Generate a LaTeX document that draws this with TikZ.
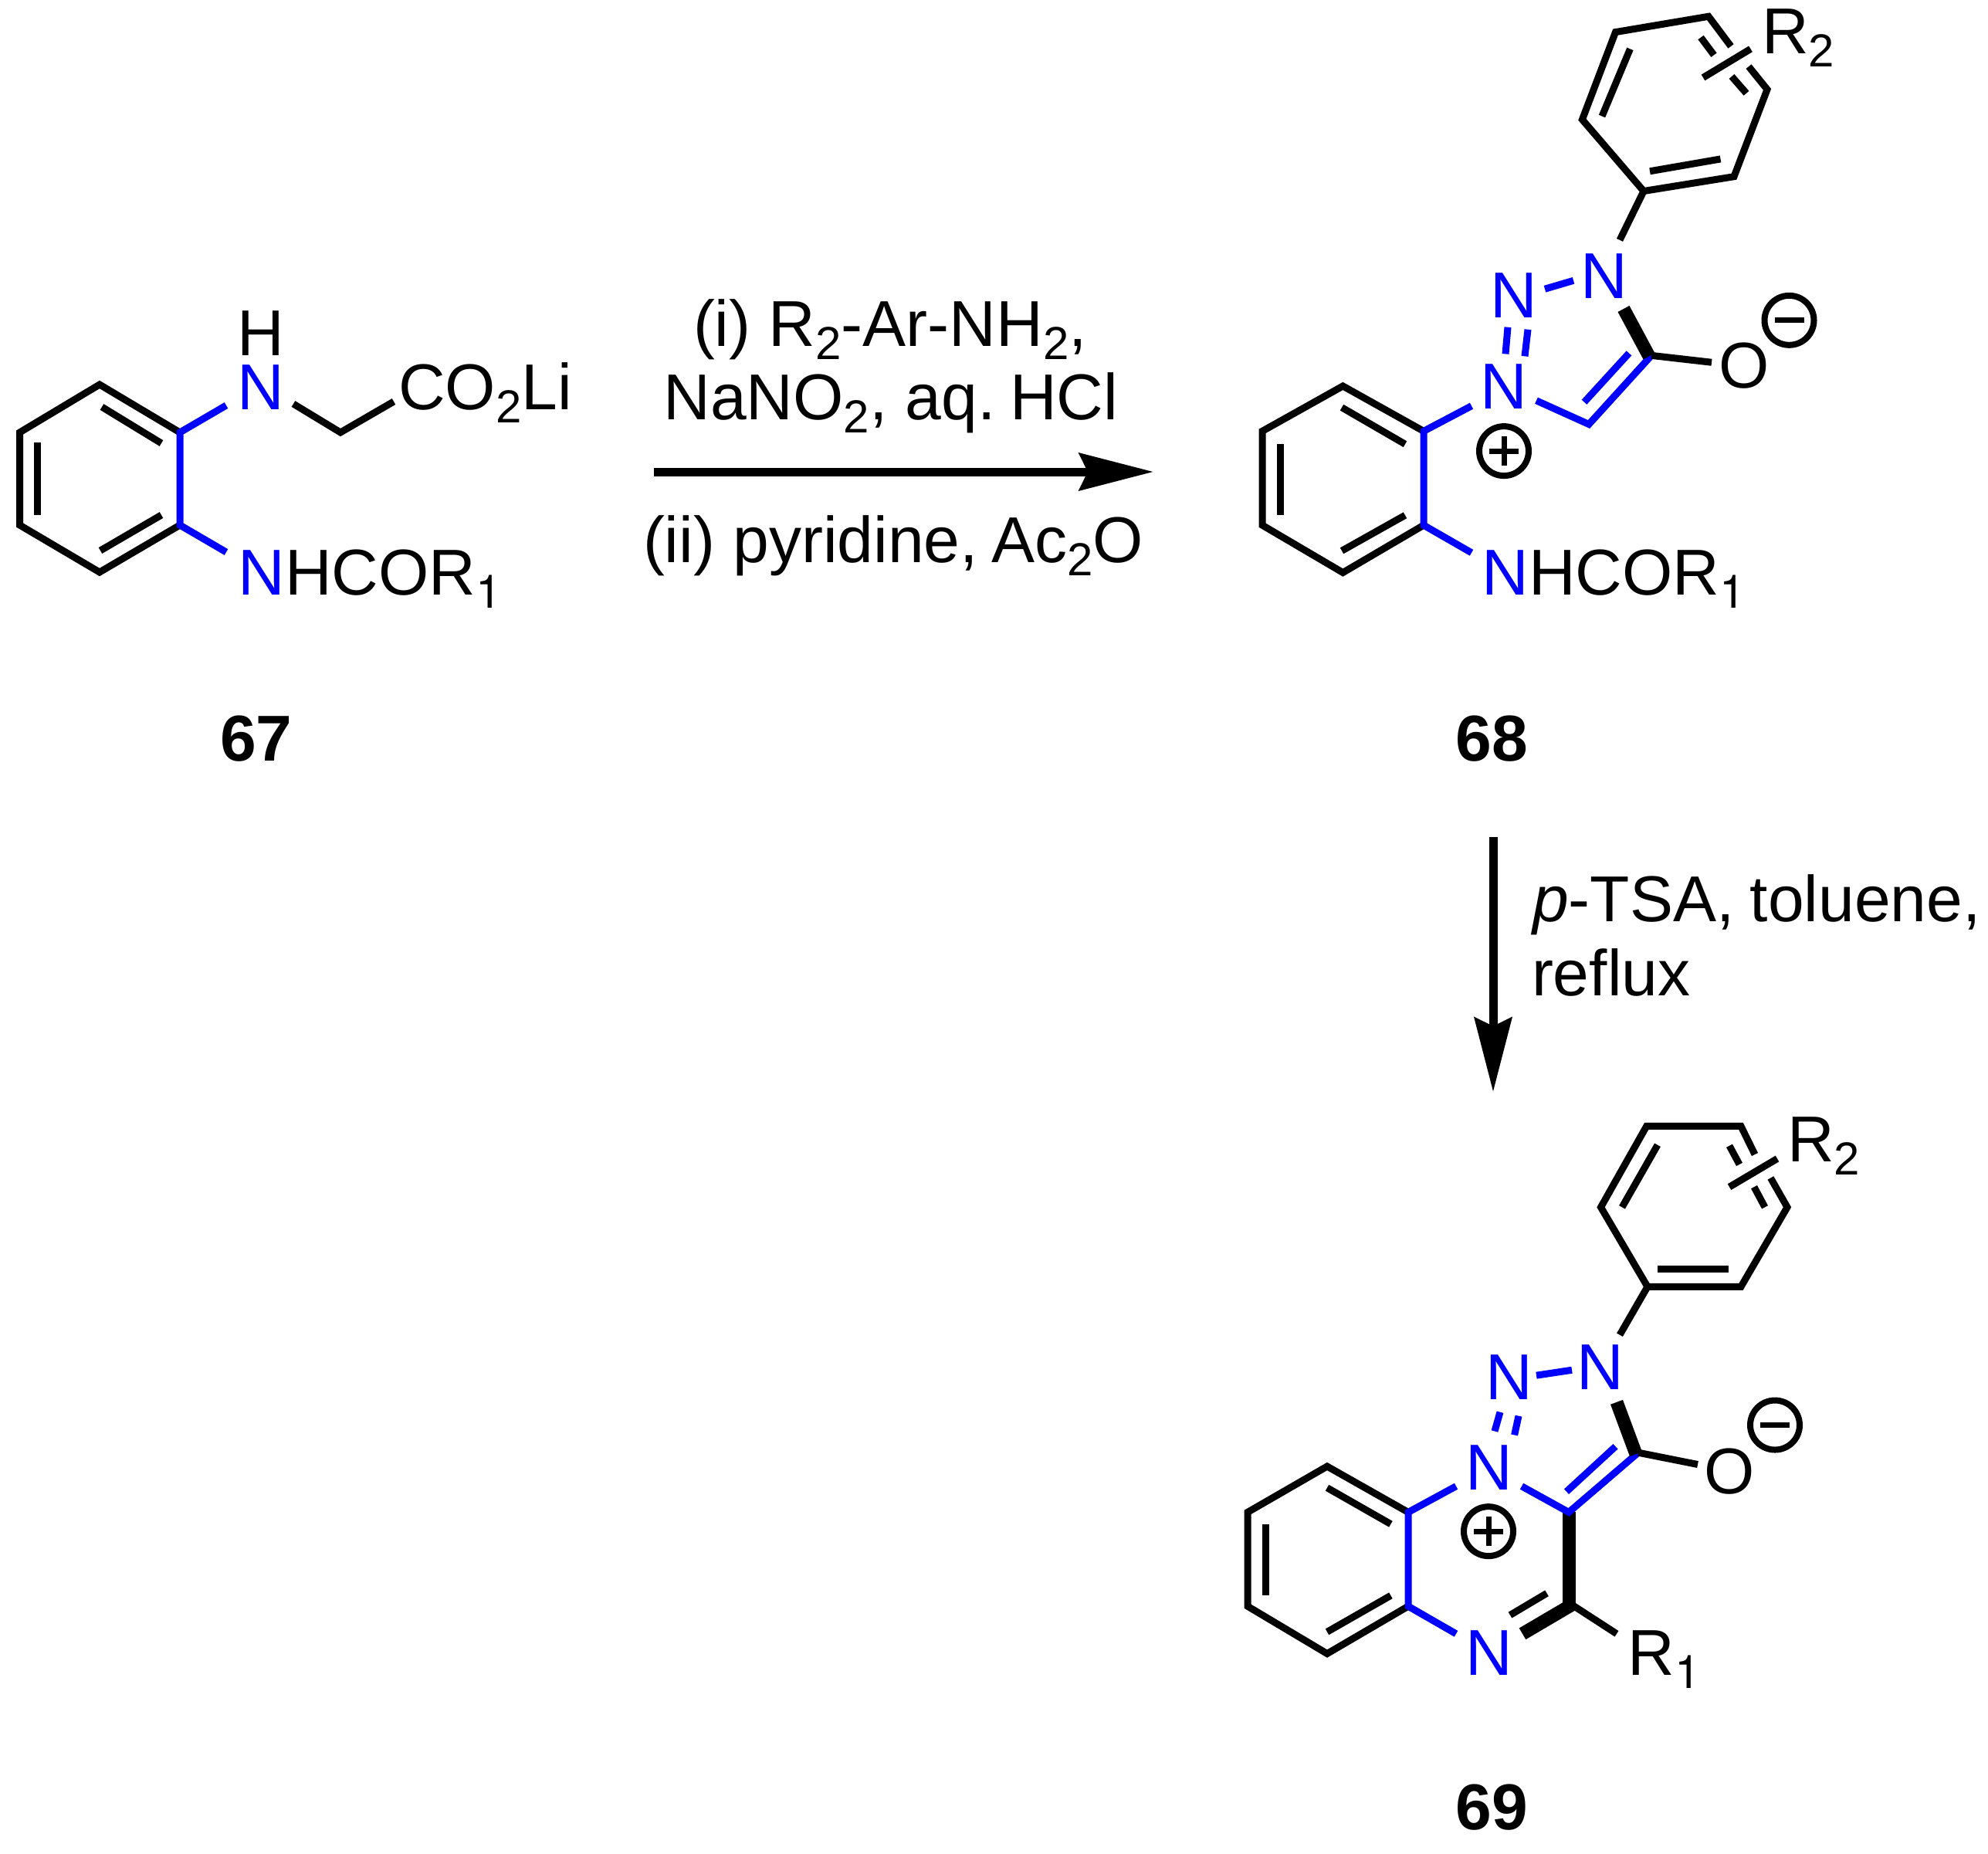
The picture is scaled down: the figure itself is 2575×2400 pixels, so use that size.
\documentclass[tikz,border=0pt]{standalone}
\usepackage{fontspec}
\setmainfont{Liberation Sans}
\newfontfamily\subonefont{TeX Gyre Heros}
\usetikzlibrary{arrows.meta}
\definecolor{atomblue}{RGB}{0,0,255}
\AtBeginDocument{\frenchspacing}
\newcommand{\lowidx}[1]{\raisebox{-8.5pt}{\fontsize{30}{30}\selectfont #1}}
\newcommand{\lowone}{\raisebox{-8.5pt}{\fontsize{30}{30}\subonefont 1}}
\newcommand{\bluen}{\textcolor{atomblue}{N}}
\tikzset{
  lbl/.style={anchor=base west,inner sep=0pt,outer sep=0pt,font=\fontsize{42}{42}\selectfont},
  atomlbl/.style={anchor=base,inner sep=0pt,outer sep=0pt,font=\fontsize{42}{42}\selectfont},
  numlbl/.style={anchor=base,inner sep=0pt,outer sep=0pt,font=\fontsize{42}{42}\selectfont\bfseries},
  bond/.style={line width=4.5pt,black},
  bluebond/.style={line width=4.5pt,atomblue},
  boldbond/.style={line width=8.5pt,black},
  chargering/.style={circle,draw,line width=4pt,minimum size=32pt,inner sep=0pt,outer sep=0pt},
  chargebar/.style={line width=3.5pt,black},
  rxn/.style={line width=5.5pt,-{Stealth[length=48pt,width=24pt,inset=5.5pt]}}
}
\begin{document}
\begin{tikzpicture}[x=0.5pt,y=-0.5pt]
\useasboundingbox (0,0) rectangle (2575,2400);
% ---------- compound 67 ----------
\coordinate (a1) at (233,560);
\coordinate (a2) at (129,498);
\coordinate (a3) at (25.5,560);
\coordinate (a4) at (25.5,680);
\coordinate (a5) at (129,741);
\coordinate (a6) at (233,680);
\coordinate (ai1s) at (132,527); \coordinate (ai1e) at (209,574);
\coordinate (ai2s) at (48.5,573); \coordinate (ai2e) at (48.5,667);
\coordinate (ai3s) at (130,713); \coordinate (ai3e) at (209,667);
\coordinate (aNa) at (293,525);
\coordinate (aNb) at (293,715);
\coordinate (ach1) at (380,523);
\coordinate (ach2) at (441,560);
\coordinate (ach3) at (510,520);
\draw[bond] (a1) -- (a2) -- (a3) -- (a4) -- (a5) -- (a6);
\draw[bond] (ai1s) -- (ai1e);
\draw[bond] (ai2s) -- (ai2e);
\draw[bond] (ai3s) -- (ai3e);
\draw[bluebond] (aNa) -- (a1) -- (a6) -- (aNb);
\draw[bond] (ach1) -- (ach2) -- (ach3);
\node[atomlbl,text=atomblue] (aN) at (338,530) {N};
\node[atomlbl] (aH) at (338,460) {H};
\node[lbl] (aCO) at (516,530) {CO\lowidx{2}Li};
\node[lbl] (aNH) at (308.5,770) {\bluen HCOR\lowone};
\node[numlbl] (n67) at (332,985) {67};
% ---------- reaction arrow 1 ----------
\coordinate (r1s) at (847,611);
\coordinate (r1e) at (1494,611);
\draw[rxn] (r1s) -- (r1e);
\node[lbl] (r1a) at (898,448) {(i) R\lowidx{2}-Ar-NH\lowidx{2},};
\node[lbl] (r1b) at (859.5,543) {NaNO\lowidx{2}, aq.\kern-2.5pt\ HCl};
\node[lbl] (r1c) at (833,728) {(ii) pyridine,\kern-3pt\ Ac\lowidx{2}O};
% ---------- compound 68 ----------
\begin{scope}[yscale=0.99]
\coordinate (b1) at (1844,564);
\coordinate (b2) at (1739.4,505);
\coordinate (b3) at (1635,564);
\coordinate (b4) at (1635,687);
\coordinate (b5) at (1739.4,749);
\coordinate (b6) at (1844,687);
\coordinate (bi1s) at (1738,533); \coordinate (bi1e) at (1820,581);
\coordinate (bi2s) at (1658.5,580.5); \coordinate (bi2e) at (1658.5,674);
\coordinate (bi3s) at (1738,720.5); \coordinate (bi3e) at (1820,674);
\coordinate (bNa) at (1906,531);
\coordinate (bNb) at (1906,723);
\draw[bond] (b1) -- (b2) -- (b3) -- (b4) -- (b5) -- (b6);
\draw[bond] (bi1s) -- (bi1e);
\draw[bond] (bi2s) -- (bi2e);
\draw[bond] (bi3s) -- (bi3e);
\draw[bluebond] (bNa) -- (b1) -- (b6) -- (bNb);
\coordinate (bdd1s) at (1953,428); \coordinate (bdd1e) at (1950,463);
\coordinate (bdd2s) at (1979,431); \coordinate (bdd2e) at (1975,466);
\coordinate (bnns) at (2001,378); \coordinate (bnne) at (2038,367);
\coordinate (bn1c) at (1990,524);
\coordinate (bc4) at (2058,555);
\coordinate (bc5) at (2139,465);
\coordinate (bdi1) at (2052,526); \coordinate (bdi2) at (2110,462);
\coordinate (bws) at (2103,404); \coordinate (bwe) at (2136,466);
\coordinate (bO) at (2217,474);
\draw[bluebond] (bdd1s) -- (bdd1e);
\draw[bluebond] (bdd2s) -- (bdd2e);
\draw[bluebond] (bnns) -- (bnne);
\draw[bluebond] (bn1c) -- (bc4) -- (bc5);
\draw[bluebond] (bdi1) -- (bdi2);
\draw[boldbond] (bws) -- (bwe);
\draw[bond] (bc5) -- (bO);
\node[atomlbl,text=atomblue] (bN1) at (1948,535) {N};
\node[atomlbl,text=atomblue] (bN2) at (1961,416) {N};
\node[atomlbl,text=atomblue] (bN3) at (2078,390.5) {N};
\node[atomlbl] (bOx) at (2259,508) {O};
\node[chargering] (bplus) at (1948,590) {};
\draw[chargebar] ([xshift=-9.5pt]bplus.center) -- ([xshift=9.5pt]bplus.center);
\draw[chargebar] ([yshift=-9.5pt]bplus.center) -- ([yshift=9.5pt]bplus.center);
\node[chargering] (bminus) at (2317.5,419) {};
\draw[chargebar] ([xshift=-9.5pt]bminus.center) -- ([xshift=9.5pt]bminus.center);
\coordinate (bp1) at (2129,250);
\coordinate (bp2) at (2246,231);
\coordinate (bp3) at (2289,117);
\coordinate (bp3b) at (2265,87);
\coordinate (bp4b) at (2242,60.5);
\coordinate (bp4) at (2213,21.5);
\coordinate (bp5) at (2092.5,42);
\coordinate (bp6) at (2049.4,156.4);
\coordinate (bpN) at (2098,314);
\coordinate (bpi1s) at (2075,152); \coordinate (bpi1e) at (2111.4,64);
\coordinate (bpi2s) at (2137,224); \coordinate (bpi2e) at (2228.5,208);
\coordinate (bpi3s) at (2262,122); \coordinate (bpi3e) at (2243,100);
\coordinate (bpi4s) at (2220,72); \coordinate (bpi4e) at (2203,49);
\coordinate (bxs) at (2206,101.5); \coordinate (bxe) at (2267.5,64);
\draw[bond] (bp3b) -- (bp3) -- (bp2) -- (bp1) -- (bp6) -- (bp5) -- (bp4) -- (bp4b);
\draw[bond] (bp1) -- (bpN);
\draw[bond] (bpi1s) -- (bpi1e);
\draw[bond] (bpi2s) -- (bpi2e);
\draw[bond] (bpi3s) -- (bpi3e);
\draw[bond] (bpi4s) -- (bpi4e);
\draw[bond] (bxs) -- (bxe);
\node[lbl] (bR2) at (2282,70) {R\lowidx{2}};
\node[lbl] (bNH) at (1919.5,778) {\bluen HCOR\lowone};
\end{scope}
\node[numlbl] (n68) at (1932,985) {68};
% ---------- reaction arrow 2 ----------
\coordinate (r2s) at (1934,1084);
\coordinate (r2e) at (1934,1414);
\draw[rxn] (r2s) -- (r2e);
\node[lbl] (r2a) at (1985,1193) {\itshape p\upshape -TSA,\kern-1.5pt\ toluene,};
\node[lbl] (r2b) at (1984,1289) {reflux};
% ---------- compound 69 ----------
\begin{scope}[shift={(0,14)},yscale=0.99]
\coordinate (c1) at (1824,1964);
\coordinate (c2) at (1719,1904);
\coordinate (c3) at (1616,1964);
\coordinate (c4) at (1616,2087);
\coordinate (c5) at (1719,2149);
\coordinate (c6) at (1824,2087);
\coordinate (ci1s) at (1719,1932); \coordinate (ci1e) at (1801.4,1979.5);
\coordinate (ci2s) at (1639,1979.5); \coordinate (ci2e) at (1639,2073);
\coordinate (ci3s) at (1719,2120.5); \coordinate (ci3e) at (1801.4,2073);
\coordinate (cNa) at (1886,1930);
\coordinate (cNb) at (1886,2123);
\draw[bond] (c1) -- (c2) -- (c3) -- (c4) -- (c5) -- (c6);
\draw[bond] (ci1s) -- (ci1e);
\draw[bond] (ci2s) -- (ci2e);
\draw[bond] (ci3s) -- (ci3e);
\draw[bluebond] (cNa) -- (c1) -- (c6) -- (cNb);
\coordinate (cdd1s) at (1943,1833); \coordinate (cdd1e) at (1936,1858);
\coordinate (cdd2s) at (1967,1838); \coordinate (cdd2e) at (1961.6,1863);
\coordinate (cnns) at (1990,1785); \coordinate (cnne) at (2036,1778);
\coordinate (cn1c) at (1971,1930);
\coordinate (cc3a) at (2032,1964);
\coordinate (cc5) at (2122,1886);
\coordinate (cdi1) at (2029,1937); \coordinate (cdi2) at (2092.5,1878);
\coordinate (cws) at (2094,1820); \coordinate (cwe) at (2119,1888);
\coordinate (cO) at (2199,1901.5);
\coordinate (cc4) at (2032,2091);
\coordinate (cc4b) at (2036,2085);
\coordinate (cn4) at (1972,2123);
\coordinate (cdn1) at (1956,2098.5); \coordinate (cdn2) at (2003.5,2070);
\coordinate (cR) at (2094,2123);
\draw[boldbond] (cc3a) -- (cc4);
\draw[boldbond] (cn4) -- (cc4b);
\draw[bond] (cdn1) -- (cdn2);
\draw[bond] (cc4b) -- (cR);
\draw[bluebond] (cdd1s) -- (cdd1e);
\draw[bluebond] (cdd2s) -- (cdd2e);
\draw[bluebond] (cnns) -- (cnne);
\draw[bluebond] (cn1c) -- (cc3a) -- (cc5);
\draw[bluebond] (cdi1) -- (cdi2);
\draw[boldbond] (cws) -- (cwe);
\draw[bond] (cc5) -- (cO);
\node[atomlbl,text=atomblue] (cN1) at (1929,1935) {N};
\node[atomlbl,text=atomblue] (cN2) at (1955,1817) {N};
\node[atomlbl,text=atomblue] (cN3) at (2073,1804) {N};
\node[atomlbl,text=atomblue] (cN4) at (1929,2177) {N};
\node[atomlbl] (cOx) at (2240.6,1940) {O};
\node[chargering] (cplus) at (1928,1989) {};
\draw[chargebar] ([xshift=-9.5pt]cplus.center) -- ([xshift=9.5pt]cplus.center);
\draw[chargebar] ([yshift=-9.5pt]cplus.center) -- ([yshift=9.5pt]cplus.center);
\node[chargering] (cminus) at (2299,1850) {};
\draw[chargebar] ([xshift=-9.5pt]cminus.center) -- ([xshift=9.5pt]cminus.center);
\coordinate (cp1) at (2134,1669);
\coordinate (cp2) at (2255,1669);
\coordinate (cp3) at (2315,1565);
\coordinate (cp3b) at (2293.4,1526.7);
\coordinate (cp4b) at (2273,1496);
\coordinate (cp4) at (2255,1459);
\coordinate (cp5) at (2132.7,1459);
\coordinate (cp6) at (2073.5,1565);
\coordinate (cpN) at (2098,1732);
\coordinate (cpi1s) at (2101,1565); \coordinate (cpi1e) at (2147,1483.6);
\coordinate (cpi2s) at (2147,1646); \coordinate (cpi2e) at (2239,1646);
\coordinate (cpi3s) at (2286,1565); \coordinate (cpi3e) at (2272,1538.5);
\coordinate (cpi4s) at (2253,1509); \coordinate (cpi4e) at (2240,1484.6);
\coordinate (cxs) at (2240,1538.5); \coordinate (cxe) at (2302,1501.5);
\draw[bond] (cp3b) -- (cp3) -- (cp2) -- (cp1) -- (cp6) -- (cp5) -- (cp4) -- (cp4b);
\draw[bond] (cp1) -- (cpN);
\draw[bond] (cpi1s) -- (cpi1e);
\draw[bond] (cpi2s) -- (cpi2e);
\draw[bond] (cpi3s) -- (cpi3e);
\draw[bond] (cpi4s) -- (cpi4e);
\draw[bond] (cxs) -- (cxe);
\node[lbl] (cR2) at (2315,1506) {R\lowidx{2}};
\node[lbl] (cR1) at (2108.7,2177) {R\lowone};
\end{scope}
\node[numlbl] (n69) at (1932,2369) {69};
\end{tikzpicture}
\end{document}
